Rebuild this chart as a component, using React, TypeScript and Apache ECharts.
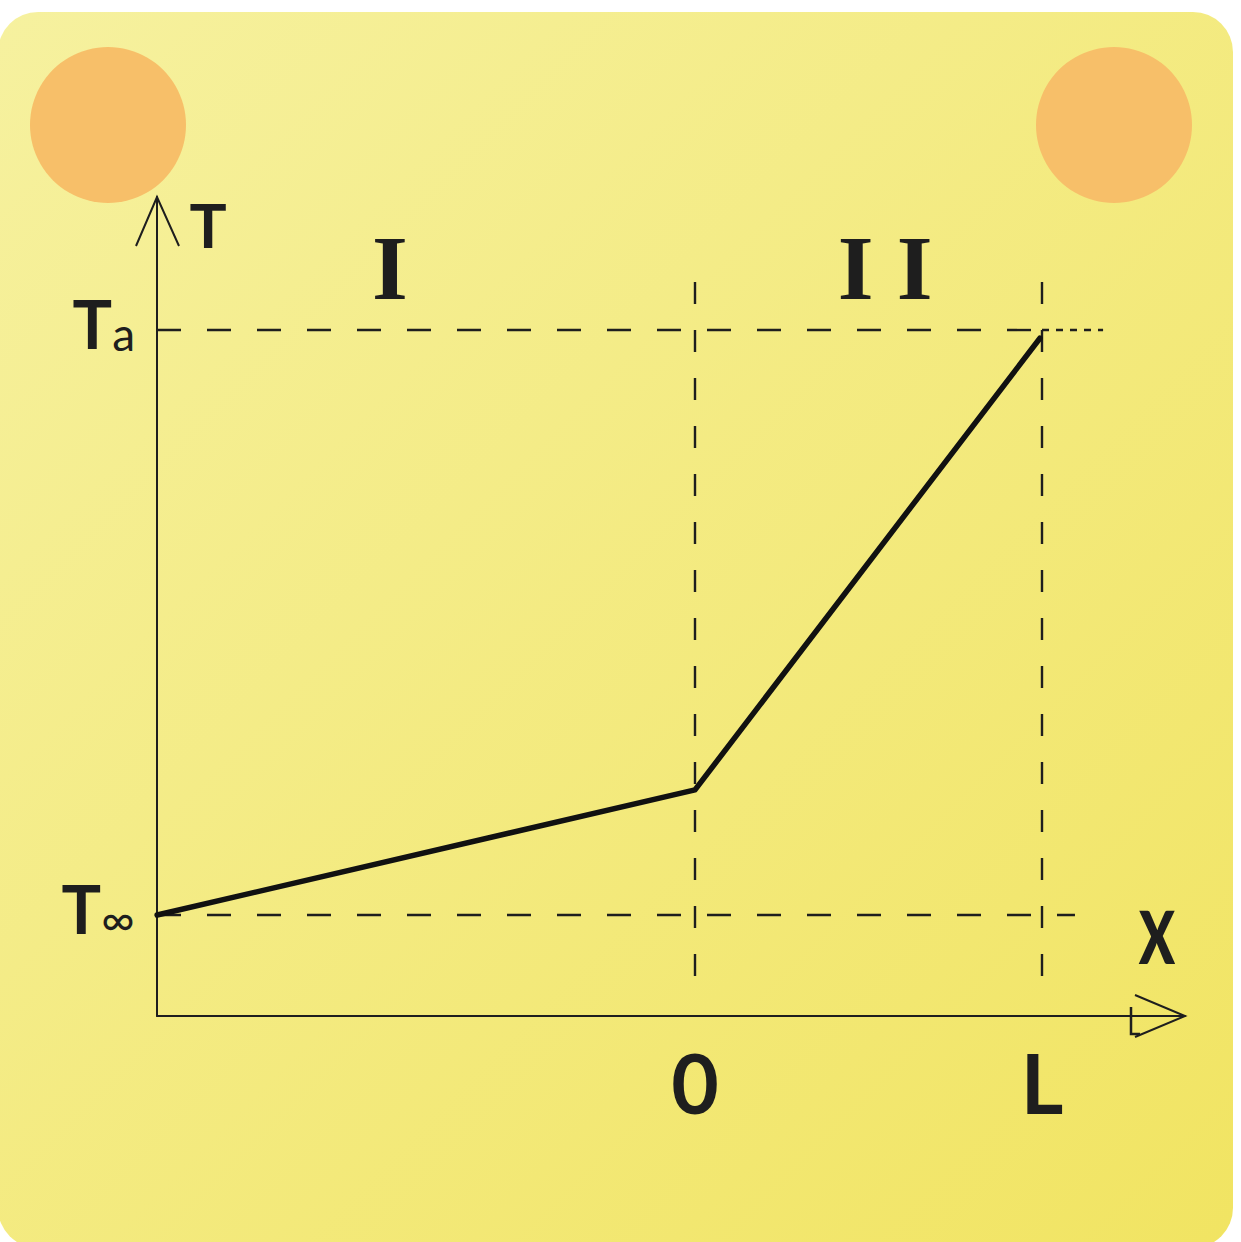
import React, { useEffect, useRef } from "react";
import * as echarts from "echarts";

// ---- data (x in units of L, temperature scaled so T∞ = 0, Ta = 1) ----
const profileX = [-1.55, 0, 0.994];
const profileT = [0, 0.214, 0.986];

const X_MIN = -1.5504;
const X_MAX = 1.4121;
const Y_MIN = -0.1726;
const Y_MAX = 1.2274;

const xTickValues = [0, 1];
const xTickLabels = ["0", "L"];
const yTickValues = [0, 1];
const yTickLabels = ["T∞", "Ta"];

const regionNames = ["I", "I I"];
const regionCenters = [-0.879, 0.548];
const regionLevel = 1.106;

const taDashEnd = 1;
const taDotEnd = 1.176;
const tinfDashEnd = 1.095;
const boundaryX = [0, 1];
const boundaryTop = 1.082;
const boundaryBottom = -0.137;

const INK = "#1e1e1e";
const HAND = "Lato, 'Open Sans', sans-serif";

export default function App() {
  const ref = useRef<HTMLDivElement>(null);

  useEffect(() => {
    if (!ref.current) return;
    const chart = echarts.init(ref.current, undefined, { renderer: "svg" });

    const dashed = (data: number[][], pattern: number[], name: string) => ({
      type: "line",
      name,
      data,
      showSymbol: false,
      symbol: "none",
      silent: true,
      lineStyle: { color: INK, width: 2.4, type: pattern },
      z: 3,
    });

    const option: any = {
      animation: false,
      graphic: [
        {
          type: "rect",
          z: -10,
          shape: { x: -2, y: 12, width: 1235, height: 1236, r: 40 },
          style: {
            fill: new echarts.graphic.LinearGradient(0, 0, 1, 1, [
              { offset: 0, color: "#f6f19f" },
              { offset: 1, color: "#f1e462" },
            ]),
          },
        },
        { type: "circle", z: -9, shape: { cx: 108, cy: 125, r: 78 }, style: { fill: "#f7bf69" } },
        { type: "circle", z: -9, shape: { cx: 1114, cy: 125, r: 78 }, style: { fill: "#f7bf69" } },
      ],
      grid: { left: 157, right: 56, top: 197, bottom: 226, containLabel: false, outerBoundsMode: "none" },
      xAxis: {
        type: "value",
        min: X_MIN,
        max: X_MAX,
        axisLine: { show: true, onZero: false, lineStyle: { color: INK, width: 2 } },
        axisTick: { show: false },
        splitLine: { show: false },
        axisLabel: {
          customValues: xTickValues,
          formatter: (v: number) => xTickLabels[xTickValues.indexOf(v)] ?? "",
          color: INK,
          fontFamily: HAND,
          fontWeight: "bold",
          fontSize: 82,
          margin: 25,
        },
      },
      yAxis: {
        type: "value",
        min: Y_MIN,
        max: Y_MAX,
        axisLine: { show: true, onZero: false, lineStyle: { color: INK, width: 2 } },
        axisTick: { show: false },
        splitLine: { show: false },
        axisLabel: {
          customValues: yTickValues,
          formatter: (v: number) => {
            const s = yTickLabels[yTickValues.indexOf(v)] ?? "";
            return "{t|" + s.charAt(0) + "}{s|" + s.slice(1) + "}";
          },
          margin: 22,
          padding: [0, 0, 14, 0],
          rich: {
            t: { fontSize: 66, fontFamily: HAND, fontWeight: "bold", color: INK, verticalAlign: "bottom", lineHeight: 66 },
            s: { fontSize: 46, fontFamily: HAND, color: INK, verticalAlign: "bottom", lineHeight: 52 },
          },
        },
      },
      series: [
        dashed([[X_MIN, 1], [taDashEnd, 1]], [24, 26], "Ta level"),
        dashed([[taDashEnd, 1], [taDotEnd, 1]], [7, 7], "Ta extension"),
        dashed([[X_MIN, 0], [tinfDashEnd, 0]], [24, 26], "T∞ level"),
        ...boundaryX.map((bx) => dashed([[bx, boundaryTop], [bx, boundaryBottom]], [22, 26], "boundary")),
        {
          type: "line",
          name: "T(x)",
          data: profileX.map((x, i) => [x, profileT[i]]),
          showSymbol: false,
          symbol: "none",
          lineStyle: { color: "#111", width: 5.5, cap: "round", join: "round" },
          z: 5,
        },
        {
          type: "custom",
          name: "annotations",
          clip: false,
          silent: true,
          z: 6,
          data: [0],
          renderItem: (_p: any, api: any) => {
            const xt = api.coord([X_MAX, Y_MIN]);
            const yt = api.coord([X_MIN, Y_MAX]);
            const stroke = { stroke: INK, lineWidth: 2, fill: null };
            const children: any[] = [
              { type: "polyline", shape: { points: [[xt[0] - 50, xt[1] - 21], [xt[0], xt[1]], [xt[0] - 50, xt[1] + 21]] }, style: stroke },
              { type: "polyline", shape: { points: [[xt[0] - 54, xt[1] - 9], [xt[0] - 54, xt[1] + 18], [xt[0] - 45, xt[1] + 18]] }, style: { ...stroke, lineWidth: 2.5 } },
              { type: "polyline", shape: { points: [[yt[0] - 21, yt[1] + 49], [yt[0], yt[1]], [yt[0] + 22, yt[1] + 49]] }, style: stroke },
              {
                type: "text",
                x: yt[0] + 51,
                y: yt[1] + 27,
                style: { text: "T", fontSize: 62, fontFamily: HAND, fontWeight: "bold", fill: INK, align: "center", verticalAlign: "middle" },
              },
              {
                type: "text",
                x: xt[0] - 28,
                y: xt[1] - 92,
                scaleX: 0.68,
                style: { text: "x", fontSize: 104, fontFamily: HAND, fontWeight: "bold", fill: INK, align: "center", verticalAlign: "middle" },
              },
            ];
            regionNames.forEach((name, i) => {
              const c = api.coord([regionCenters[i], regionLevel]);
              children.push({
                type: "text",
                x: c[0],
                y: c[1],
                style: { text: name, fontSize: 92, fontFamily: "'Liberation Serif', 'DejaVu Serif', serif", fontWeight: "bold", fill: INK, align: "center", verticalAlign: "middle" },
              });
            });
            return { type: "group", children };
          },
        },
      ],
    };

    chart.setOption(option);
    return () => chart.dispose();
  }, []);

  return (
    <div
      ref={ref}
      style={{ position: "fixed", left: 0, top: 0, width: 1241, height: 1242, background: "#ffffff" }}
    />
  );
}
